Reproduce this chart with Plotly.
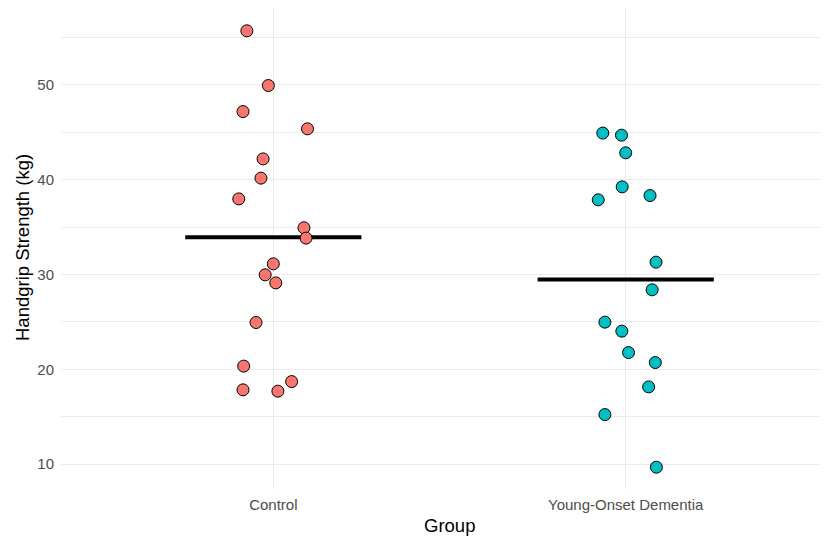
import plotly.graph_objects as go

groups = ["Control", "Young-Onset Dementia"]
colors = ["#F8766D", "#00BFC4"]

control_values = [55.7, 49.93, 47.18, 45.36, 42.19, 40.16, 37.97, 34.92, 33.83,
                  31.12, 29.96, 29.11, 24.93, 20.33, 18.70, 17.83, 17.69]
control_jitter = [-0.075, -0.014, -0.086, 0.097, -0.029, -0.035, -0.098, 0.087, 0.093,
                  0.0, -0.023, 0.007, -0.049, -0.084, 0.052, -0.086, 0.013]

yod_values = [44.91, 44.69, 42.83, 39.24, 38.32, 37.87, 31.30, 28.38, 24.97,
              24.02, 21.76, 20.71, 18.14, 15.22, 9.67]
yod_jitter = [-0.065, -0.012, 0.0, -0.010, 0.069, -0.078, 0.086, 0.075, -0.059,
              -0.011, 0.008, 0.084, 0.065, -0.059, 0.087]

y_ticks = [10, 20, 30, 40, 50]

values = [control_values, yod_values]
jitters = [control_jitter, yod_jitter]

fig = go.Figure()

# page body has an 8px margin; the figure is placed at (8, 8) in the window
OFF = 8
W, H = 828 - OFF, 537 - OFF
L, R, T, B = 61 - OFF, 0, max(9 - OFF, 0), 537 - 489

for i, (g, col, vals, jit) in enumerate(zip(groups, colors, values, jitters)):
    pos = i + 1
    mean = sum(vals) / len(vals)
    fig.add_trace(go.Scatter(
        x=[pos - 0.25, pos + 0.25], y=[mean, mean], mode="lines",
        line=dict(color="black", width=4), showlegend=False, hoverinfo="skip"))
    fig.add_trace(go.Scatter(
        x=[pos + j for j in jit], y=vals, mode="markers", name=g,
        marker=dict(size=12, color=col, line=dict(color="black", width=1)),
        showlegend=False))

grid = "#EBEBEB"
ph = H - T - B
pw = W - L - R
fig.update_layout(
    width=W, height=H,
    margin=dict(l=L, r=R, t=T, b=B, pad=0),
    paper_bgcolor="white", plot_bgcolor="white",
    font=dict(family="Liberation Sans, Arial, sans-serif", color="#4D4D4D", size=15),
    xaxis=dict(
        range=[0.3976, 2.574], tickvals=[1, 2], ticktext=groups,
        showgrid=True, gridcolor=grid, gridwidth=1.2, zeroline=False,
        showline=False, ticks="", ticklabelstandoff=5,
        tickfont=dict(size=15, color="#4D4D4D")),
    yaxis=dict(
        range=[7.37, 58.0], tickvals=y_ticks,
        showgrid=True, gridcolor=grid, gridwidth=1.2, zeroline=False,
        showline=False, ticks="", ticklabelstandoff=6,
        tickfont=dict(size=15, color="#4D4D4D"),
        minor=dict(dtick=5, tick0=0, showgrid=True, gridcolor=grid, gridwidth=0.8)),
    annotations=[
        dict(text="Group", xref="paper", yref="paper",
             x=(449 - OFF - L) / pw, y=-(525 - 489) / ph,
             xanchor="center", yanchor="middle", showarrow=False,
             font=dict(size=18.5, color="black")),
        dict(text="Handgrip Strength (kg)", xref="paper", yref="paper",
             x=-(61 - 22) / pw, y=1 - (248 - OFF - T) / ph, textangle=-90,
             xanchor="center", yanchor="middle", showarrow=False,
             font=dict(size=18.5, color="black")),
    ],
)

fig.write_html("out.html")
